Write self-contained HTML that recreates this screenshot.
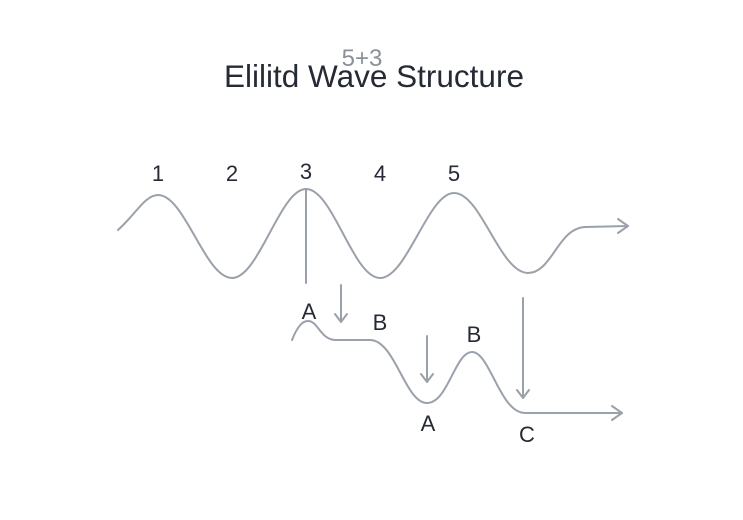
<!DOCTYPE html>
<html><head><style>
body{margin:0;background:#fff;}
svg{display:block;font-family:"Liberation Sans",sans-serif;}
</style></head><body>
<svg width="743" height="520" viewBox="0 0 743 520" xmlns="http://www.w3.org/2000/svg">
<text x="362" y="66" text-anchor="middle" font-size="24" fill="#8a9099">5+3</text>
<text x="374" y="87" text-anchor="middle" font-size="31.5" fill="#252a35">Elilitd Wave Structure</text>
<g font-size="22" fill="#252a35" text-anchor="middle">
<text x="158" y="181">1</text><text x="232" y="181">2</text><text x="306" y="179">3</text>
<text x="380" y="181">4</text><text x="454" y="181">5</text>
<text x="309" y="319">A</text><text x="380" y="330">B</text>
<text x="474" y="342">B</text><text x="428" y="431">A</text><text x="527" y="442">C</text>
</g>
<g fill="none" stroke="#9aa1aa" stroke-width="2" stroke-linecap="round" stroke-linejoin="round">
<path d="M118 230 C135 215 145 195 158 195 C185 195 205 278 232 278 C259 278 280 189 306 189 C333 189 353 278 380 278 C407 278 428 193 454 193 C481 193 500 273 528 273 C552 273 558 228 585 227 L628 226"/>
<path d="M618 219 L628 226 L618 233"/>
<path d="M306 189 L306 283"/>
<path d="M292 340 C298 325 303 321 308 321 C318 321 320 339 335 340 L370 340 C395 340 405 403 427 403 C448 403 455 352 472 352 C490 352 500 413 525 413 L622 413"/>
<path d="M612 406 L622 413 L612 420"/>
<path d="M341 285 L341 322 M335 314 L341 322 L347 314"/>
<path d="M427 336 L427 382 M421 374 L427 382 L433 374"/>
<path d="M523 298 L523 398 M517 390 L523 398 L529 390"/>
</g>
</svg>
</body></html>
